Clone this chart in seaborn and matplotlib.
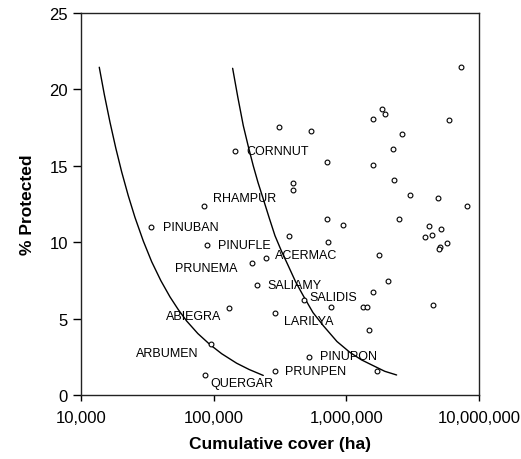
import numpy as np
import pandas as pd
import matplotlib
matplotlib.use("Agg")
import matplotlib.pyplot as plt
import seaborn as sns
from matplotlib.ticker import FixedLocator, FixedFormatter, NullLocator

# ---------------- data ----------------
labeled_species = ["PINUBAN", "RHAMPUR", "CORNNUT", "PINUFLE", "PRUNEMA", "ACERMAC",
                   "SALIAMY", "SALIDIS", "ABIEGRA", "LARILYA", "ARBUMEN", "QUERGAR",
                   "PRUNPEN", "PINUPON"]
labeled_cover = [33600, 84600, 145000, 89600, 194000, 248000,
                 213000, 479000, 130000, 291000, 94800, 86000,
                 290000, 525000]
labeled_protected = [11.0, 12.4, 15.95, 9.84, 8.66, 8.99,
                     7.18, 6.24, 5.71, 5.39, 3.36, 1.31,
                     1.57, 2.49]

other_cover = [312000, 541000, 714000, 398000, 398000, 714000, 7350000, 1845000,
               1954000, 1597000, 5900000, 2610000, 2260000, 1597000, 2300000,
               3030000, 4930000, 8050000, 948000, 2480000, 4220000, 5160000,
               3910000, 4440000, 5750000, 5070000, 4990000, 1750000, 2060000,
               1580000, 4520000, 1340000, 1440000, 762000, 371000, 731000,
               1480000, 1710000]
other_protected = [17.56, 17.26, 15.27, 13.87, 13.42, 11.54, 21.45, 18.70,
                   18.39, 18.06, 17.98, 17.08, 16.10, 15.07, 14.09,
                   13.11, 12.89, 12.35, 11.13, 11.52, 11.04, 10.85,
                   10.32, 10.47, 9.97, 9.69, 9.55, 9.18, 7.48,
                   6.76, 5.87, 5.78, 5.78, 5.78, 10.43, 10.03,
                   4.27, 1.57]

curve_low_cover = [13730, 15000, 16540, 18300, 20260, 22700, 25520, 29500, 34110,
                   40000, 46860, 54000, 62590, 76000, 93770, 115000, 149000,
                   185000, 236500]
curve_low_protected = [21.45, 19.65, 17.85, 16.15, 14.6, 13.05, 11.62, 10.07, 8.72,
                       7.48, 6.42, 5.6, 4.84, 4.02, 3.3, 2.7, 2.08,
                       1.67, 1.28]

curve_high_cover = [139000, 152000, 167200, 182000, 198800, 216000, 236500, 262000,
                    289700, 325000, 364900, 415000, 473400, 560000, 669700,
                    850000, 1064000, 1300000, 1595000, 1950000, 2393000]
curve_high_protected = [21.38, 19.5, 17.63, 16.3, 15.00, 13.9, 12.83, 11.6,
                        10.43, 9.4, 8.46, 7.4, 6.50, 5.4, 4.54,
                        3.5, 2.79, 2.3, 1.92, 1.55, 1.31]

x_ticks = [10000, 100000, 1000000, 10000000]
x_tick_labels = ["10,000", "100,000", "1,000,000", "10,000,000"]
y_ticks = [0, 5, 10, 15, 20, 25]
y_tick_labels = ["0", "5", "10", "15", "20", "25"]
x_title = "Cumulative cover (ha)"
y_title = "% Protected"

# label layout (offset in pixels from point: dx, dy up, horizontal alignment)
label_layout = [(12, 0, "left"), (9, 8, "left"), (11, 0, "left"), (11, 0, "left"),
                (-14, -5, "right"), (9, 3, "left"), (10, 0, "left"), (5, 3, "left"),
                (-7, -8, "right"), (9, -8, "left"), (-12, -9, "right"), (5, -8, "left"),
                (10, 0, "left"), (11, 1, "left")]

# ---------------- plotting ----------------
sns.set_theme(style="white")
plt.rcParams["font.family"] = ["Liberation Sans", "DejaVu Sans"]
plt.rcParams["text.color"] = "black"
plt.rcParams["axes.labelcolor"] = "black"
plt.rcParams["xtick.color"] = "black"
plt.rcParams["ytick.color"] = "black"

fig = plt.figure(figsize=(5.21, 4.6), dpi=100)
ax = fig.add_axes([81 / 521, 64 / 460, 398 / 521, 382 / 460])
ax.set_xscale("log")

curve_low = pd.DataFrame({"cover": curve_low_cover, "protected": curve_low_protected})
curve_high = pd.DataFrame({"cover": curve_high_cover, "protected": curve_high_protected})
sns.lineplot(data=curve_low, x="cover", y="protected", sort=False, estimator=None,
             color="black", linewidth=1.0, ax=ax)
sns.lineplot(data=curve_high, x="cover", y="protected", sort=False, estimator=None,
             color="black", linewidth=1.0, ax=ax)

points = pd.DataFrame({
    "cover": labeled_cover + other_cover,
    "protected": labeled_protected + other_protected,
})
sns.scatterplot(data=points, x="cover", y="protected", marker="o", s=12,
                color="white", edgecolor="black", linewidth=0.8, ax=ax, zorder=3)

for name, xv, yv, (dx, dy, ha) in zip(labeled_species, labeled_cover,
                                      labeled_protected, label_layout):
    ax.annotate(name, (xv, yv), xytext=(dx, dy), textcoords="offset pixels",
                ha=ha, va="center", fontsize=9, color="black")

ax.set_xlim(10000, 10000000)
ax.set_ylim(0, 25)
ax.xaxis.set_major_locator(FixedLocator(x_ticks))
ax.xaxis.set_major_formatter(FixedFormatter(x_tick_labels))
ax.xaxis.set_minor_locator(NullLocator())
ax.yaxis.set_major_locator(FixedLocator(y_ticks))
ax.yaxis.set_major_formatter(FixedFormatter(y_tick_labels))

ax.tick_params(axis="x", which="major", direction="out", length=4.5, width=1,
               color="black", labelcolor="black", labelsize=12, pad=6, bottom=True)
ax.tick_params(axis="y", which="major", direction="out", length=5.5, width=1,
               color="black", labelcolor="black", labelsize=12, pad=4, left=True)

for sp in ax.spines.values():
    sp.set_visible(True)
    sp.set_color("#222222")
    sp.set_linewidth(1.0)

ax.set_xlabel(x_title, fontsize=12.5, fontweight="bold", labelpad=8, color="black")
ax.set_ylabel(y_title, fontsize=12.5, fontweight="bold", labelpad=10, color="black")
ax.grid(False)

fig.savefig("out.png", dpi=100)
